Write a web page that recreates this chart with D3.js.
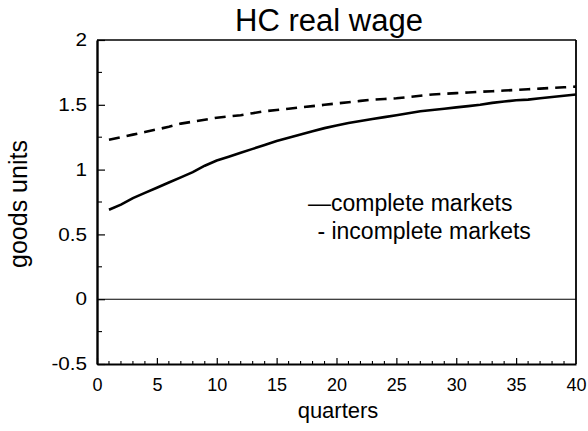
<!DOCTYPE html>
<html>
<head>
<meta charset="utf-8">
<script src="https://cdn.jsdelivr.net/npm/d3@7"></script>
<style>
html,body{margin:0;padding:0;background:#fff;}
svg{display:block;}
text{font-family:"Liberation Sans",Arial,Helvetica,sans-serif;fill:#000;}
</style>
</head>
<body>
<svg id="chart" width="588" height="431"></svg>
<script>
const quarters = d3.range(1, 41);
const completeMarkets = [0.69,0.73,0.78,0.82,0.86,0.90,0.94,0.98,1.03,1.07,
  1.10,1.13,1.16,1.19,1.22,1.245,1.27,1.295,1.32,1.34,
  1.36,1.375,1.39,1.405,1.42,1.435,1.45,1.46,1.47,1.48,
  1.49,1.50,1.515,1.525,1.535,1.54,1.55,1.56,1.57,1.58];
const incompleteMarkets = [1.23,1.25,1.27,1.29,1.31,1.33,1.355,1.37,1.385,1.40,
  1.41,1.42,1.435,1.45,1.46,1.47,1.48,1.49,1.50,1.51,
  1.52,1.53,1.54,1.545,1.55,1.56,1.57,1.58,1.585,1.59,
  1.595,1.60,1.605,1.61,1.615,1.62,1.625,1.63,1.635,1.64];
const xTicks = [0,5,10,15,20,25,30,35,40];
const yTicks = [-0.5,0,0.5,1,1.5,2];
const yTickLabels = ["-0.5","0","0.5","1","1.5","2"];
const yMinorTicks = [-0.25,0.25,0.75,1.25,1.75];
const xMinorTicks = d3.range(0, 41).filter(d => d % 5 !== 0);
const legendLabels = ["\u2014complete markets", " - incomplete markets"];

const svg = d3.select("#chart");
const L = 97, R = 576, T = 40, B = 364;
const x = d3.scaleLinear().domain([0, 40]).range([L, R]);
const y = d3.scaleLinear().domain([-0.5, 2]).range([B, T]);

// frame top/right
svg.append("line").attr("x1", L).attr("x2", R).attr("y1", T).attr("y2", T)
  .attr("stroke", "#000").attr("stroke-width", 1.5);
svg.append("line").attr("x1", R).attr("x2", R).attr("y1", T).attr("y2", B)
  .attr("stroke", "#000").attr("stroke-width", 1.8);

// zero line
svg.append("line").attr("x1", x(0)).attr("x2", x(40)).attr("y1", y(0)).attr("y2", y(0))
  .attr("stroke", "#000").attr("stroke-width", 1.1);

// axes
const xAxis = d3.axisBottom(x).tickValues(xTicks).tickFormat(d => String(d))
  .tickSizeInner(-6).tickSizeOuter(0).tickPadding(14);
const gx = svg.append("g").attr("transform", `translate(0,${B})`).call(xAxis);
gx.select(".domain").attr("stroke-width", 2.2);
gx.selectAll(".tick line").attr("stroke-width", 1.2);
gx.selectAll("text").attr("font-size", 18).attr("font-family", '"Liberation Sans",Arial,sans-serif');
gx.selectAll(".tick").filter(d => d === 40).select("line").remove();

const yAxis = d3.axisLeft(y).tickValues(yTicks).tickFormat((d, i) => yTickLabels[i])
  .tickSizeInner(-8).tickSizeOuter(0).tickPadding(10);
const gy = svg.append("g").attr("transform", `translate(${L},0)`).call(yAxis);
gy.select(".domain").attr("stroke-width", 2.4);
gy.selectAll(".tick line").attr("stroke-width", 1.2);
gy.selectAll("text").attr("font-size", 18).attr("font-family", '"Liberation Sans",Arial,sans-serif')
  .attr("transform", "scale(1.15,1)").attr("x", -10 / 1.15);

// minor ticks
svg.append("g").selectAll("line").data(yMinorTicks).join("line")
  .attr("x1", L).attr("x2", L + 5).attr("y1", d => y(d)).attr("y2", d => y(d))
  .attr("stroke", "#000").attr("stroke-width", 1.1);
svg.append("g").selectAll("line").data(xMinorTicks).join("line")
  .attr("x1", d => x(d)).attr("x2", d => x(d)).attr("y1", B).attr("y2", B - 3)
  .attr("stroke", "#000").attr("stroke-width", 1.1);

// lines
const line = d3.line().x((d, i) => x(quarters[i])).y(d => y(d));
svg.append("path").datum(completeMarkets).attr("d", line)
  .attr("fill", "none").attr("stroke", "#000").attr("stroke-width", 2.6);
svg.append("path").datum(incompleteMarkets).attr("d", line)
  .attr("fill", "none").attr("stroke", "#000").attr("stroke-width", 2.6)
  .attr("stroke-dasharray", "11,7");

// title
svg.append("text").attr("x", 329).attr("y", 31).attr("text-anchor", "middle")
  .attr("font-size", 31).text("HC real wage");

// axis labels
svg.append("text").attr("x", 338).attr("y", 418).attr("text-anchor", "middle")
  .attr("font-size", 22).text("quarters");
svg.append("text").attr("transform", "translate(27,204) rotate(-90)")
  .attr("text-anchor", "middle").attr("font-size", 25).text("goods units");

// legend
svg.append("text").attr("x", 308).attr("y", 211).attr("font-size", 23)
  .style("white-space", "pre").text(legendLabels[0]);
svg.append("text").attr("x", 311).attr("y", 239).attr("font-size", 23)
  .style("white-space", "pre").text(legendLabels[1]);
</script>
</body>
</html>
